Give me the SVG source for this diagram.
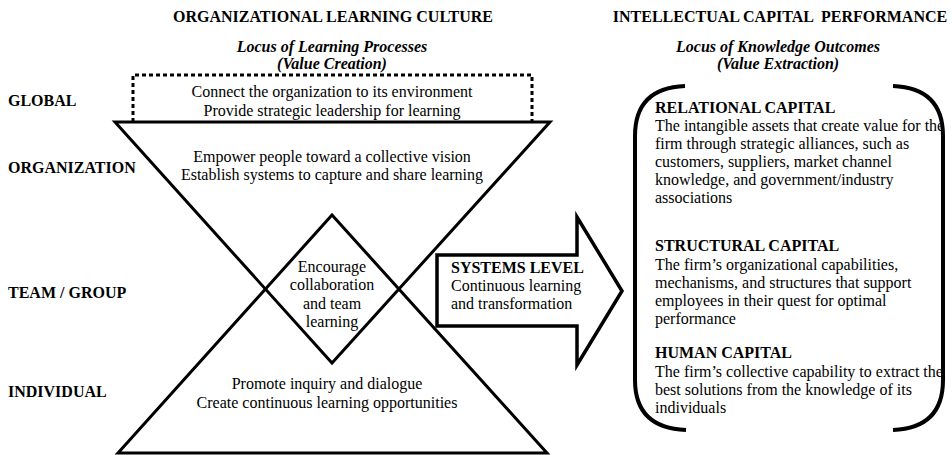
<svg xmlns="http://www.w3.org/2000/svg" width="952" height="455" viewBox="0 0 952 455">
  <style>
    text { font-family: "Liberation Serif", "Times New Roman", serif; fill: #000; }
    .hdr { font-size: 16px; font-weight: bold; }
    .sub { font-size: 16px; font-weight: bold; font-style: italic; }
    .lvl { font-size: 16px; font-weight: bold; }
    .body { font-size: 16px; }
    .ttl { font-size: 16px; font-weight: bold; }
    .mid { text-anchor: middle; }
    .shape { fill: none; stroke: #000; stroke-width: 3; stroke-linejoin: miter; }
    .dots { fill: none; stroke: #000; stroke-width: 3; stroke-dasharray: 4 3; }
    .brace { fill: none; stroke: #000; stroke-width: 4; stroke-linecap: butt; }
  </style>

  <!-- column headings -->
  <g id="heading-left">
    <text class="hdr mid" x="333" y="22">ORGANIZATIONAL LEARNING CULTURE</text>
    <text class="sub mid" x="332" y="52">Locus of Learning Processes</text>
    <text class="sub mid" x="332" y="69">(Value Creation)</text>
  </g>
  <g id="heading-right">
    <text class="hdr mid" x="780" y="22" xml:space="preserve">INTELLECTUAL CAPITAL  PERFORMANCE</text>
    <text class="sub mid" x="778" y="52">Locus of Knowledge Outcomes</text>
    <text class="sub mid" x="778" y="69">(Value Extraction)</text>
  </g>

  <!-- level labels -->
  <g id="levels">
    <text class="lvl" x="8" y="106">GLOBAL</text>
    <text class="lvl" x="8" y="173">ORGANIZATION</text>
    <text class="lvl" x="8" y="298">TEAM / GROUP</text>
    <text class="lvl" x="8" y="397">INDIVIDUAL</text>
  </g>

  <!-- global level: dotted box -->
  <g id="global">
    <path class="dots" d="M133,122 V75 H532 V122"/>
    <text class="body mid" x="332" y="97">Connect the organization to its environment</text>
    <text class="body mid" x="332" y="116">Provide strategic leadership for learning</text>
  </g>

  <!-- organization level: inverted triangle -->
  <g id="organization">
    <polygon class="shape" points="115,122 550,122 332,363"/>
    <text class="body mid" x="332" y="162">Empower people toward a collective vision</text>
    <text class="body mid" x="332" y="180">Establish systems to capture and share learning</text>
  </g>

  <!-- individual level: upright triangle -->
  <g id="individual">
    <polygon class="shape" points="118,453 547,453 332,215"/>
    <text class="body mid" x="327" y="389">Promote inquiry and dialogue</text>
    <text class="body mid" x="327" y="408">Create continuous learning opportunities</text>
  </g>

  <!-- team level: diamond formed by the overlap -->
  <g id="team">
    <text class="body mid" x="332" y="272">Encourage</text>
    <text class="body mid" x="332" y="290">collaboration</text>
    <text class="body mid" x="332" y="309">and team</text>
    <text class="body mid" x="332" y="327">learning</text>
  </g>

  <!-- systems level arrow -->
  <g id="connectors">
    <polygon class="shape" style="stroke-width:3.5" points="437,255 577,255 577,217 622,291 577,365 577,326 437,326"/>
  </g>
  <g id="systems">
    <text class="ttl" x="451" y="273">SYSTEMS LEVEL</text>
    <text class="body" x="451" y="291">Continuous learning</text>
    <text class="body" x="451" y="309">and transformation</text>
  </g>

  <!-- intellectual capital bracket -->
  <g id="capital">
    <path class="brace" d="M685,86 Q635,88 635,136 V380 Q635,428 686,430"/>
    <path class="brace" d="M893,86 Q943,88 943,136 V380 Q943,428 893,430"/>

    <text class="ttl" x="655" y="113">RELATIONAL CAPITAL</text>
    <text class="body" x="655" y="131">The intangible assets that create value for the</text>
    <text class="body" x="655" y="149">firm through strategic alliances, such as</text>
    <text class="body" x="655" y="167">customers, suppliers, market channel</text>
    <text class="body" x="655" y="185">knowledge, and government/industry</text>
    <text class="body" x="655" y="203">associations</text>

    <text class="ttl" x="655" y="251">STRUCTURAL CAPITAL</text>
    <text class="body" x="655" y="270">The firm’s organizational capabilities,</text>
    <text class="body" x="655" y="288">mechanisms, and structures that support</text>
    <text class="body" x="655" y="306">employees in their quest for optimal</text>
    <text class="body" x="655" y="324">performance</text>

    <text class="ttl" x="655" y="358">HUMAN CAPITAL</text>
    <text class="body" x="655" y="377">The firm’s collective capability to extract the</text>
    <text class="body" x="655" y="395">best solutions from the knowledge of its</text>
    <text class="body" x="655" y="413">individuals</text>
  </g>
</svg>
